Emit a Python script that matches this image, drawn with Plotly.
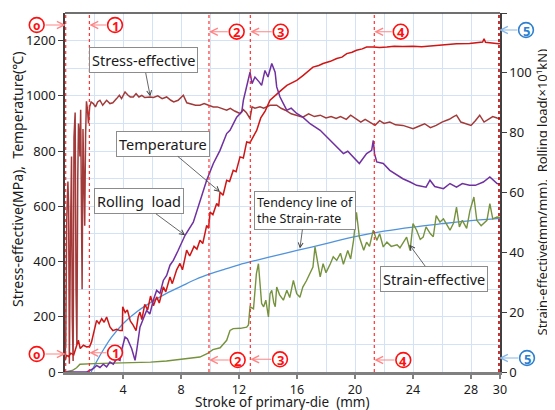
import plotly.graph_objects as go

# ---------------- data ----------------
# Stress-effective (MPa) – left axis
stress_x = [0, 0.05, 0.12, 0.2, 0.25, 0.3, 0.38, 0.45, 0.5, 0.56, 0.62, 0.7, 0.76, 0.82, 0.88, 0.93, 0.98,
            1.03, 1.08, 1.13, 1.18, 1.24, 1.3, 1.36, 1.42, 1.48, 1.55, 1.62, 1.7, 1.8, 1.95, 2.1, 2.25, 2.41,
            2.6, 2.87, 3.1, 3.3, 3.56, 3.75, 3.9, 4.14, 4.35, 4.5, 4.71, 4.9, 5.1, 5.3, 5.5, 5.86, 6.1, 6.4,
            6.7, 7.01, 7.3, 7.5, 7.8, 8.16, 8.4, 8.7, 9.0, 9.31, 9.6, 9.9, 10.23, 10.5, 10.8, 11.15, 11.4,
            11.7, 12.07, 12.3, 12.5, 12.76, 12.9, 13.1, 13.45, 13.7, 14.14, 14.6, 14.9, 15.2, 15.6, 16.0,
            16.4, 16.8, 17.2, 17.6, 18.0, 18.35, 18.7, 19.0, 19.4, 19.7, 20.0, 20.4, 20.7, 21.03, 21.38,
            21.7, 22.0, 22.4, 22.8, 23.3, 23.7, 24.0, 24.4, 24.8, 25.2, 25.6, 26.0, 26.5, 26.8, 27.0, 27.3,
            27.6, 28.0, 28.3, 28.6, 28.9, 29.2, 29.5, 29.8, 30]
stress_y = [60, 100, 550, 690, 600, 30, 500, 780, 200, 40, 850, 940, 300, 100, 700, 900, 860,
            780, 950, 600, 300, 880, 700, 530, 860, 980, 950, 900, 960, 978, 972, 960, 978, 984,
            966, 984, 972, 975, 990, 1002, 990, 1014, 1002, 996, 996, 1008, 996, 1002, 994, 996, 994, 1000,
            990, 996, 984, 978, 984, 1002, 975, 970, 966, 966, 972, 966, 960, 960, 954, 948, 955,
            945, 936, 950, 940, 918, 960, 955, 960, 955, 966, 966, 955, 948, 935, 930,
            923, 935, 925, 930, 920, 925, 918, 925, 915, 930, 918, 905, 915, 905, 893,
            910, 900, 905, 895, 893, 885, 881, 890, 899, 885, 893, 905, 915, 925, 930, 905,
            899, 893, 910, 930, 905, 915, 925, 920, 918]

# Temperature (deg C) – left axis
temp_x = [0, 0.1, 0.25, 0.4, 0.6, 0.8, 0.92, 1.05, 1.27, 1.5, 1.7, 1.83, 2.0, 2.18, 2.35, 2.53, 2.7, 2.87,
          3.1, 3.3, 3.56, 3.8, 3.95, 3.98, 4.15, 4.3, 4.5, 4.7, 4.9, 5.05, 5.17, 5.3, 5.5, 5.7, 5.9, 6.1,
          6.32, 6.5, 6.78, 6.95, 7.24, 7.4, 7.7, 7.93, 8.1, 8.39, 8.6, 8.9, 9.1, 9.31, 9.5, 9.77, 9.9,
          10.0, 10.2, 10.46, 10.6, 10.69, 10.9, 11.15, 11.35, 11.6, 11.8, 12.07, 12.3, 12.53, 12.75,
          12.99, 13.22, 13.5, 13.8, 14.14, 14.6, 14.9, 15.3, 15.6, 15.98, 16.43, 16.8, 17.1, 17.5, 17.8,
          18.3, 18.74, 19.1, 19.43, 19.8, 20.1, 20.5, 20.8, 21.26, 21.7, 22.2, 22.7, 23.3, 24.0, 24.6,
          25.6, 26.3, 27.0, 27.9, 28.8, 28.9, 29.0, 29.9, 30]
temp_y = [42, 60, 56, 68, 62, 100, 115, 85, 97, 91, 92, 109, 150, 187, 175, 193, 180, 199,
          163, 150, 155, 150, 150, 236, 215, 225, 185, 170, 150, 200, 217, 190, 245, 225, 275, 240,
          272, 250, 308, 290, 344, 320, 370, 393, 370, 441, 420, 455, 445, 477, 465, 531, 520,
          579, 570, 610, 600, 652, 640, 694, 690, 730, 725, 779, 775, 833, 830,
          851, 875, 920, 945, 984, 1008, 1020, 1038, 1045, 1056, 1074, 1090, 1104, 1110, 1117,
          1125, 1135, 1140, 1153, 1158, 1165, 1170, 1177, 1177, 1175, 1177, 1180, 1179, 1180, 1178,
          1183, 1185, 1189, 1190, 1195, 1207, 1194, 1189, 1190]

# Rolling load (x10 kN) – right axis
load_x = [0, 1.0, 1.5, 1.95, 2.18, 2.41, 2.64, 2.87, 3.1, 3.33, 3.56, 3.79, 3.9, 4.14, 4.3, 4.6, 4.83, 4.95,
          5.17, 5.4, 5.63, 5.85, 6.09, 6.32, 6.55, 6.78, 7.01, 7.24, 7.47, 7.8, 8.28, 8.85, 9.31, 9.77,
          10.23, 10.69, 11.15, 11.38, 11.84, 12.19, 12.3, 12.53, 12.76, 12.9, 13.1, 13.4, 13.56, 13.79,
          14.0, 14.26, 14.37, 14.49, 14.6, 14.83, 15.06, 15.3, 15.6, 15.98, 16.4, 16.9, 17.6, 18.05,
          18.4, 18.74, 19.2, 19.5, 19.9, 20.3, 20.8, 21.15, 21.26, 21.35, 21.5, 21.95, 22.4, 22.9, 23.3,
          23.8, 24.25, 24.9, 25.17, 25.5, 26.1, 26.55, 27.0, 27.4, 27.9, 28.3, 28.85, 29.3, 29.8, 30]
load_y = [0, 0, 0, 1.1, 2.2, 1.5, 2.6, 1.7, 3.3, 2.6, 4.4, 3.9, 7.2, 11.7, 11.1, 7.8, 3.9, 7.4,
          15.0, 17.8, 20.6, 19.4, 24.0, 27.3, 26.3, 30.6, 32.3, 35.7, 37.3, 40.6, 45.7, 50.1, 57.4, 64.1,
          69.7, 74.1, 79.7, 80.8, 85.2, 86.9, 90.8, 95.3, 100.2, 96.4, 98.6, 96.9, 95.8, 100.8,
          98.6, 103.1, 101.5, 100.2, 95.3, 91.9, 89.7, 87.5, 88.2, 86.4, 85.2, 83.0, 80.8, 78.6,
          76.6, 75.2, 73.0, 73.8, 71.9, 69.7, 73.0, 74.1, 77.4, 72.9, 70.2, 69.7, 67.4, 65.7, 64.6,
          63.5, 62.4, 61.8, 64.1, 62.0, 61.3, 63.0, 61.8, 63.0, 62.4, 62.4, 63.5, 65.2, 63.0, 62.8]

# Strain-effective (mm/mm) – right axis
strain_x = [0, 0.5, 0.8, 0.92, 1.03, 2, 3, 3.8, 4.7, 5.9, 7, 8.2, 9.3, 9.8, 10.2, 10.7, 11.15, 11.38, 11.6,
            12.1, 12.53, 12.65, 12.76, 13.0, 13.2, 13.34, 13.45, 13.56, 13.7, 13.85, 14.03, 14.14, 14.26,
            14.4, 14.5, 14.6, 14.8, 15.06, 15.3, 15.5, 15.75, 15.98, 16.2, 16.4, 16.65, 16.9, 17.1, 17.24,
            17.4, 17.6, 17.8, 18.0, 18.3, 18.5, 18.74, 19.0, 19.2, 19.5, 19.7, 19.9, 20.1, 20.3, 20.6,
            20.8, 21.0, 21.26, 21.5, 21.7, 21.95, 22.2, 22.5, 22.9, 23.1, 23.3, 23.56, 23.8, 24.0, 24.25,
            24.5, 24.7, 24.9, 25.2, 25.4, 25.6, 25.86, 26.1, 26.3, 26.55, 26.8, 27.0, 27.2, 27.4, 27.7,
            27.93, 28.2, 28.4, 28.7, 29.1, 29.3, 29.5, 29.8, 30]
strain_y = [0, 0.5, 1.4, 2.2, 2.6, 2.8, 2.9, 3.0, 3.0, 3.3, 3.7, 4.4, 5.0, 6.1, 7.5, 8.1, 10.6, 13.9, 14.5,
            14.6, 15.0, 15.7, 21.8, 21.1, 32.9, 36.2, 30.6, 22.9, 21.8, 24.0, 18.4, 26.2, 27.3,
            23.1, 21.8, 28.4, 25.8, 24.0, 27.3, 24.9, 30.6, 26.2, 25.0, 28.4, 30.5, 32.9, 35.1, 41.8,
            37.8, 31.8, 36.2, 33.2, 36.2, 38.5, 37.3, 39.7, 36.0, 40.6, 37.8, 44.0, 53.4, 45.1, 40.7,
            43.4, 42.0, 47.4, 44.0, 46.2, 41.8, 43.4, 42.0, 42.5, 41.5, 42.9, 45.1, 40.6, 49.6, 47.4,
            44.3, 45.1, 48.5, 46.2, 45.2, 52.3, 50.1, 51.2, 49.6, 47.4, 49.8, 55.1, 48.5, 50.7, 48.0,
            54.0, 58.5, 50.7, 48.9, 50.7, 56.3, 51.2, 51.8, 51.7]

# Tendency line of the strain-rate – left axis
trend_x = [1.8, 2.2, 2.7, 3.2, 4, 5, 6, 7, 8, 9, 10, 11, 12, 13, 14, 16, 18, 20, 22, 24, 26, 28, 30]
trend_y = [0, 40, 85, 125, 175, 220, 255, 285, 310, 335, 355, 372, 388, 402, 415, 440, 465, 490,
           510, 525, 537, 548, 556]

# Stage markers (stroke positions) and their labels
stage_x = [0.05, 1.68, 9.93, 12.78, 21.33, 29.93]
stage_labels = ["o", "1", "2", "3", "4", "5"]

x_ticks = [4, 8, 12, 16, 20, 24, 28, 30]
y_ticks = [0, 200, 400, 600, 800, 1000, 1200]
y2_ticks = [0, 20, 40, 60, 80, 100, 120]

# ---------------- layout geometry ----------------
# The page body has an 8 px margin, so the figure is 8 px smaller than the window
OFF = 8
W, H = 555 - OFF, 410 - OFF
L, R, T, B = 57, 55, 5, 38
PW, PH = W - L - R, H - T - B
FONT = "Noto Sans"


def PX(px):  # reference-image x pixel -> paper
    return (px - OFF - L) / PW


def PY(py):  # reference-image y pixel -> paper
    return (H - B - (py - OFF)) / PH


def XPIX(xv):  # data x -> reference-image pixel
    return OFF + L + xv / 30.0 * PW


fig = go.Figure()
fig.add_trace(go.Scatter(x=trend_x, y=trend_y, mode="lines", line=dict(color="#4F93DB", width=1.3),
                         line_shape="spline", yaxis="y", name="Tendency"))
fig.add_trace(go.Scatter(x=strain_x, y=strain_y, mode="lines", line=dict(color="#76923C", width=1.4),
                         yaxis="y2", name="Strain-effective"))
fig.add_trace(go.Scatter(x=load_x, y=load_y, mode="lines", line=dict(color="#7030A0", width=1.5),
                         yaxis="y2", name="Rolling load"))
fig.add_trace(go.Scatter(x=stress_x, y=stress_y, mode="lines", line=dict(color="#A33A3A", width=1.5),
                         yaxis="y", name="Stress-effective"))
fig.add_trace(go.Scatter(x=temp_x, y=temp_y, mode="lines", line=dict(color="#D01515", width=1.5),
                         yaxis="y", name="Temperature"))

shapes = []
for i, sx in enumerate(stage_x):
    shapes.append(dict(type="line", xref="x", yref="paper", x0=sx, x1=sx, y0=0, y1=1,
                       line=dict(color="#C00000" if i == 5 else "#FF2020", width=1.6 if i == 5 else 1.1,
                                 dash="dot"), layer="above"))

annotations = []
# circled stage labels: (cx, cy) in reference pixels, top row and bottom row
top_pos = [(36.7, 25), (115, 25), (236.7, 31.7), (280.7, 31.7), (400.7, 31.7), (526, 30)]
bot_pos = [(36.7, 354), (115, 352.7), (237.7, 360), (280, 359.3), (403.3, 360), (527, 358)]
r = 7.4
for row in (top_pos, bot_pos):
    for i, (cx, cy) in enumerate(row):
        col = "#2E7FCF" if i == 5 else "#FF1010"
        acol = "#86B6E6" if i == 5 else "#FF8585"
        shapes.append(dict(type="circle", xref="paper", yref="paper",
                           x0=PX(cx - r), x1=PX(cx + r), y0=PY(cy + r), y1=PY(cy - r),
                           line=dict(color=col, width=1.6), fillcolor="white", layer="above"))
        annotations.append(dict(xref="paper", yref="paper", x=PX(cx), y=PY(cy + 0.5), showarrow=False,
                                text="<b>%s</b>" % stage_labels[i], xanchor="center", yanchor="middle",
                                font=dict(family=FONT, size=13 if i else 12, color=col)))
        tip = XPIX(stage_x[i])
        tail = cx + r if i == 0 else cx - r
        annotations.append(dict(xref="x", yref="paper", x=stage_x[i], y=PY(cy), text="",
                                showarrow=True, ax=tail - tip, ay=0, arrowhead=5, arrowsize=1.3,
                                arrowwidth=1.1, arrowcolor=acol, standoff=0))

# text labels with pointer arrows: tip (data x, left-axis y), box centre offset in pixels
labels = [
    ("Stress-effective", 5.88, 998, -7, -36, 14.5),
    ("Temperature", 10.69, 652, -57, -48, 14.5),
    ("Rolling  load", 8.28, 495, -46, -34, 14.5),
    ("Tendency line of<br>the Strain-rate", 16.2, 447, 5, -38, 12.5),
    ("Strain-effective", 23.75, 461, 25, 34, 14.5),
]
for txt, tx, ty, ax, ay, fs in labels:
    annotations.append(dict(xref="x", yref="y", x=tx, y=ty, text=txt, showarrow=True, ax=ax, ay=ay,
                            arrowhead=5, arrowsize=1.2, arrowwidth=0.8, arrowcolor="#404040",
                            bgcolor="white", bordercolor="#8C8C8C", borderwidth=1, borderpad=2,
                            font=dict(family=FONT, size=fs, color="#1A1A1A"), align="left"))

# axis titles
annotations.append(dict(xref="paper", yref="paper", x=PX(17), y=PY(180), textangle=-90, showarrow=False,
                        text="Stress-effective(MPa),  Temperature(℃)", xanchor="center", yanchor="middle",
                        font=dict(family=FONT, size=14, color="#1A1A1A")))
annotations.append(dict(xref="paper", yref="paper", x=PX(541.5), y=PY(192), textangle=-90, showarrow=False,
                        text="Strain-effective(mm/mm),  Rolling load(×10¹kN)", xanchor="center",
                        yanchor="middle", font=dict(family=FONT, size=13, color="#1A1A1A")))
annotations.append(dict(xref="paper", yref="paper", x=PX(282.5), y=PY(402), showarrow=False,
                        text="Stroke of primary-die  (mm)", xanchor="center", yanchor="middle",
                        font=dict(family=FONT, size=13.5, color="#1A1A1A")))

grid_col = "#D3E3F5"
fig.update_layout(
    width=W, height=H, margin=dict(l=L, r=R, t=T, b=B, autoexpand=False),
    paper_bgcolor="white", plot_bgcolor="white", showlegend=False,
    font=dict(family=FONT, size=13, color="#1A1A1A"),
    xaxis=dict(range=[0, 30], tickmode="array", tickvals=x_ticks, ticks="outside", ticklen=4,
               tickcolor="#808080", tickwidth=1.5, showline=True, linecolor="#808080", linewidth=2.5,
               showgrid=True, gridcolor=grid_col, gridwidth=1, zeroline=False, mirror=False,
               minor=dict(tickmode="linear", tick0=0, dtick=2, showgrid=True, gridcolor=grid_col,
                          ticks=""),
               tickfont=dict(size=12.5)),
    yaxis=dict(range=[0, 1300], tickmode="array", tickvals=y_ticks, ticks="outside", ticklen=5,
               tickcolor="#404040", showline=True, linecolor="#404040", linewidth=1.5,
               showgrid=True, gridcolor=grid_col, zeroline=False,
               minor=dict(tickmode="linear", tick0=0, dtick=100, showgrid=True, gridcolor=grid_col,
                          ticks=""),
               tickfont=dict(size=13)),
    yaxis2=dict(range=[0, 120], overlaying="y", side="right", tickmode="array", tickvals=y2_ticks,
                ticks="outside", ticklen=5, tickcolor="#404040", showline=True, linecolor="#404040",
                linewidth=1.5, showgrid=False, zeroline=False, tickfont=dict(size=13)),
    shapes=shapes + [dict(type="line", xref="paper", yref="paper", x0=0, x1=1, y0=1, y1=1,
                          line=dict(color="#404040", width=1.5))],
    annotations=annotations,
)

fig.write_html("out.html")
